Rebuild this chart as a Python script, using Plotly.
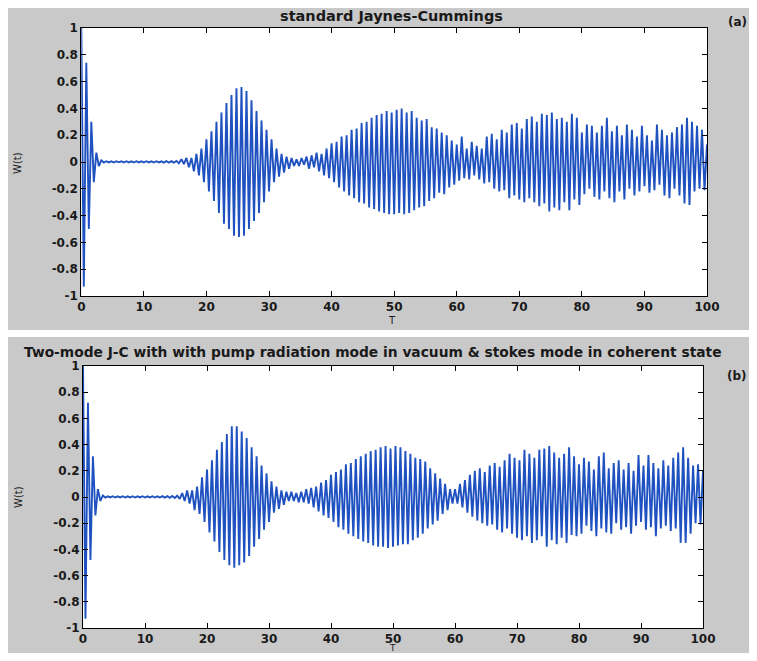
import plotly.graph_objects as go

# ---- data (extrema of the atomic inversion W(t)) ----
T = [
    0.0, 0.4, 0.8, 1.2, 1.6, 2.0, 2.4, 2.8, 3.2, 3.6,
    4.0, 4.4, 4.8, 5.2, 5.6, 6.0, 6.4, 6.8, 7.2, 7.6,
    8.0, 8.4, 8.8, 9.2, 9.6, 10.0, 10.4, 10.8, 11.2, 11.6,
    12.0, 12.4, 12.8, 13.2, 13.6, 14.0, 14.4, 14.8, 15.2, 15.6,
    16.0, 16.4, 16.8, 17.2, 17.6, 18.0, 18.4, 18.8, 19.2, 19.6,
    20.0, 20.4, 20.8, 21.2, 21.6, 22.0, 22.4, 22.8, 23.2, 23.6,
    24.0, 24.4, 24.8, 25.2, 25.6, 26.0, 26.4, 26.8, 27.2, 27.6,
    28.0, 28.4, 28.8, 29.2, 29.6, 30.0, 30.4, 30.8, 31.2, 31.6,
    32.0, 32.4, 32.8, 33.2, 33.6, 34.0, 34.4, 34.8, 35.2, 35.6,
    36.0, 36.4, 36.8, 37.2, 37.6, 38.0, 38.4, 38.8, 39.2, 39.6,
    40.0, 40.4, 40.8, 41.2, 41.6, 42.0, 42.4, 42.8, 43.2, 43.6,
    44.0, 44.4, 44.8, 45.2, 45.6, 46.0, 46.4, 46.8, 47.2, 47.6,
    48.0, 48.4, 48.8, 49.2, 49.6, 50.0, 50.4, 50.8, 51.2, 51.6,
    52.0, 52.4, 52.8, 53.2, 53.6, 54.0, 54.4, 54.8, 55.2, 55.6,
    56.0, 56.4, 56.8, 57.2, 57.6, 58.0, 58.4, 58.8, 59.2, 59.6,
    60.0, 60.4, 60.8, 61.2, 61.6, 62.0, 62.4, 62.8, 63.2, 63.6,
    64.0, 64.4, 64.8, 65.2, 65.6, 66.0, 66.4, 66.8, 67.2, 67.6,
    68.0, 68.4, 68.8, 69.2, 69.6, 70.0, 70.4, 70.8, 71.2, 71.6,
    72.0, 72.4, 72.8, 73.2, 73.6, 74.0, 74.4, 74.8, 75.2, 75.6,
    76.0, 76.4, 76.8, 77.2, 77.6, 78.0, 78.4, 78.8, 79.2, 79.6,
    80.0, 80.4, 80.8, 81.2, 81.6, 82.0, 82.4, 82.8, 83.2, 83.6,
    84.0, 84.4, 84.8, 85.2, 85.6, 86.0, 86.4, 86.8, 87.2, 87.6,
    88.0, 88.4, 88.8, 89.2, 89.6, 90.0, 90.4, 90.8, 91.2, 91.6,
    92.0, 92.4, 92.8, 93.2, 93.6, 94.0, 94.4, 94.8, 95.2, 95.6,
    96.0, 96.4, 96.8, 97.2, 97.6, 98.0, 98.4, 98.8, 99.2, 99.6,
    100.0,
]

W_standard = [
    1.00, -0.93, 0.74, -0.50, 0.30, -0.15, 0.07, -0.03, 0.012, -0.004,
    0.006, -0.003, 0.005, -0.004, 0.006, -0.002, 0.005, -0.004, 0.006, -0.003,
    0.005, -0.004, 0.006, -0.003, 0.005, -0.004, 0.006, -0.003, 0.005, -0.004,
    0.006, -0.003, 0.005, -0.005, 0.007, -0.004, 0.006, -0.005, 0.008, -0.010,
    0.02, -0.015, 0.03, -0.04, 0.03, -0.07, 0.06, -0.10, 0.10, -0.15,
    0.17, -0.22, 0.23, -0.29, 0.30, -0.38, 0.37, -0.46, 0.44, -0.50,
    0.50, -0.55, 0.55, -0.56, 0.56, -0.55, 0.53, -0.50, 0.46, -0.44,
    0.38, -0.38, 0.31, -0.30, 0.24, -0.22, 0.17, -0.15, 0.10, -0.11,
    0.06, -0.08, 0.04, -0.05, 0.03, -0.03, 0.02, -0.03, 0.03, -0.02,
    0.04, -0.05, 0.05, -0.04, 0.07, -0.07, 0.06, -0.10, 0.10, -0.12,
    0.14, -0.15, 0.15, -0.19, 0.19, -0.22, 0.20, -0.25, 0.24, -0.27,
    0.25, -0.30, 0.29, -0.31, 0.30, -0.34, 0.33, -0.35, 0.35, -0.37,
    0.36, -0.38, 0.38, -0.39, 0.37, -0.39, 0.39, -0.38, 0.40, -0.39,
    0.37, -0.38, 0.38, -0.36, 0.33, -0.34, 0.31, -0.33, 0.32, -0.29,
    0.26, -0.27, 0.25, -0.23, 0.22, -0.24, 0.20, -0.19, 0.16, -0.17,
    0.13, -0.14, 0.19, -0.12, 0.10, -0.13, 0.15, -0.10, 0.12, -0.13,
    0.10, -0.16, 0.19, -0.15, 0.21, -0.20, 0.17, -0.22, 0.24, -0.21,
    0.22, -0.27, 0.28, -0.25, 0.29, -0.28, 0.25, -0.30, 0.32, -0.27,
    0.34, -0.30, 0.30, -0.33, 0.36, -0.31, 0.35, -0.37, 0.37, -0.34,
    0.32, -0.36, 0.33, -0.30, 0.30, -0.36, 0.36, -0.28, 0.33, -0.32,
    0.22, -0.24, 0.28, -0.20, 0.27, -0.26, 0.22, -0.28, 0.27, -0.22,
    0.33, -0.27, 0.23, -0.30, 0.27, -0.22, 0.20, -0.28, 0.28, -0.20,
    0.24, -0.25, 0.19, -0.22, 0.27, -0.18, 0.20, -0.23, 0.16, -0.21,
    0.28, -0.17, 0.24, -0.25, 0.20, -0.27, 0.22, -0.20, 0.26, -0.25,
    0.28, -0.31, 0.33, -0.32, 0.30, -0.22, 0.27, -0.20, 0.24, -0.21,
    0.13,
]

W_two_mode = [
    1.00, -0.93, 0.72, -0.48, 0.31, -0.14, 0.06, -0.03, 0.012, -0.004,
    0.005, -0.003, 0.006, -0.004, 0.005, -0.003, 0.006, -0.004, 0.005, -0.003,
    0.006, -0.004, 0.005, -0.003, 0.006, -0.004, 0.005, -0.003, 0.006, -0.004,
    0.005, -0.004, 0.006, -0.005, 0.007, -0.006, 0.008, -0.008, 0.010, -0.015,
    0.03, -0.03, 0.05, -0.05, 0.05, -0.10, 0.08, -0.13, 0.15, -0.19,
    0.21, -0.27, 0.28, -0.34, 0.36, -0.42, 0.42, -0.48, 0.48, -0.52,
    0.54, -0.54, 0.54, -0.52, 0.50, -0.50, 0.45, -0.45, 0.38, -0.38,
    0.31, -0.32, 0.24, -0.25, 0.18, -0.19, 0.12, -0.12, 0.08, -0.09,
    0.05, -0.06, 0.04, -0.03, 0.04, -0.03, 0.03, -0.04, 0.04, -0.04,
    0.06, -0.05, 0.07, -0.08, 0.08, -0.11, 0.11, -0.14, 0.13, -0.16,
    0.17, -0.19, 0.19, -0.23, 0.21, -0.25, 0.25, -0.28, 0.26, -0.30,
    0.29, -0.32, 0.31, -0.34, 0.33, -0.35, 0.35, -0.37, 0.36, -0.38,
    0.38, -0.38, 0.39, -0.39, 0.37, -0.38, 0.39, -0.37, 0.38, -0.36,
    0.35, -0.36, 0.33, -0.33, 0.30, -0.31, 0.29, -0.28, 0.27, -0.24,
    0.22, -0.21, 0.18, -0.18, 0.14, -0.13, 0.10, -0.10, 0.06, -0.05,
    0.06, -0.05, 0.10, -0.08, 0.13, -0.12, 0.17, -0.15, 0.20, -0.18,
    0.22, -0.20, 0.19, -0.22, 0.24, -0.21, 0.26, -0.25, 0.23, -0.27,
    0.28, -0.24, 0.33, -0.28, 0.30, -0.31, 0.28, -0.33, 0.36, -0.30,
    0.33, -0.35, 0.30, -0.33, 0.36, -0.30, 0.37, -0.38, 0.39, -0.33,
    0.34, -0.36, 0.30, -0.31, 0.33, -0.35, 0.38, -0.29, 0.31, -0.30,
    0.25, -0.28, 0.30, -0.22, 0.27, -0.26, 0.21, -0.30, 0.31, -0.24,
    0.34, -0.27, 0.22, -0.28, 0.26, -0.20, 0.28, -0.25, 0.21, -0.23,
    0.26, -0.28, 0.20, -0.22, 0.32, -0.19, 0.24, -0.25, 0.32, -0.23,
    0.26, -0.30, 0.22, -0.24, 0.28, -0.22, 0.24, -0.26, 0.30, -0.24,
    0.34, -0.35, 0.38, -0.35, 0.30, -0.28, 0.24, -0.20, 0.25, -0.21,
    0.20,
]

X_TICKS = [0, 10, 20, 30, 40, 50, 60, 70, 80, 90, 100]
Y_TICKS = [-1, -0.8, -0.6, -0.4, -0.2, 0, 0.2, 0.4, 0.6, 0.8, 1]
Y_TICK_TEXT = ["-1", "-0.8", "-0.6", "-0.4", "-0.2", "0", "0.2", "0.4", "0.6", "0.8", "1"]

TITLE_A = "standard Jaynes-Cummings"
TITLE_B = "Two-mode J-C with with pump radiation mode in vacuum & stokes mode in coherent state"

# ---- layout geometry ----
# The page body keeps its default 8 px margin, so the figure is 741x645 and
# every position below is given in page pixels and shifted by that margin.
PAGE_OFF = 8
W_PX, H_PX = 741, 645
GRAY = "#c9c9c9"
LINE = "#1f52c0"
FONT = "DejaVu Sans"


def px(x):
    return (x - PAGE_OFF) / W_PX


def py(y):
    return 1 - (y - PAGE_OFF) / H_PX


fig = go.Figure()
fig.add_trace(go.Scatter(x=T, y=W_standard, mode="lines",
                         line=dict(color=LINE, width=1.9),
                         xaxis="x", yaxis="y", showlegend=False))
fig.add_trace(go.Scatter(x=T, y=W_two_mode, mode="lines",
                         line=dict(color=LINE, width=1.9),
                         xaxis="x2", yaxis="y2", showlegend=False))

tickfont = dict(family=FONT, size=12, color="#1a1a1a", weight="bold")
common_x = dict(range=[0, 100], tickvals=X_TICKS, ticks="inside", ticklen=5,
                tickcolor="black", showline=True, linecolor="black", linewidth=1,
                mirror="ticks", showgrid=False, zeroline=False, tickfont=tickfont)
common_y = dict(range=[-1, 1], tickvals=Y_TICKS, ticktext=Y_TICK_TEXT, ticks="inside",
                ticklen=5, tickcolor="black", showline=True, linecolor="black",
                linewidth=1, mirror="ticks", showgrid=False, zeroline=False,
                tickfont=tickfont)

fig.update_layout(
    width=W_PX, height=H_PX,
    margin=dict(l=0, r=0, t=0, b=0, autoexpand=False),
    paper_bgcolor=GRAY, plot_bgcolor="white",
    xaxis=dict(domain=[px(81.3), px(707)], anchor="y", **common_x),
    yaxis=dict(domain=[py(296), py(28)], anchor="x", **common_y),
    xaxis2=dict(domain=[px(83), px(703)], anchor="y2", **common_x),
    yaxis2=dict(domain=[py(628), py(366)], anchor="x2", **common_y),
    shapes=[
        dict(type="rect", xref="paper", yref="paper", x0=0, x1=1,
             y0=py(337), y1=py(330),
             fillcolor="white", line_width=0, layer="below"),
    ],
)

ann_font = dict(family=FONT, size=14.5, color="#1a1a1a", weight="bold")
title_b_font = dict(family=FONT, size=13.8, color="#1a1a1a", weight="bold")
small_bold = dict(family=FONT, size=12, color="#1a1a1a", weight="bold")
label_font = dict(family=FONT, size=10, color="#1a1a1a")
annotations = [
    dict(text=TITLE_A, x=px(391), y=py(16), xanchor="center", yanchor="middle",
         font=ann_font),
    dict(text=TITLE_B, x=px(22), y=py(352), xanchor="left", yanchor="middle",
         font=title_b_font),
    dict(text="(a)", x=px(737), y=py(22), xanchor="center", yanchor="middle",
         font=small_bold),
    dict(text="(b)", x=px(737), y=py(376), xanchor="center", yanchor="middle",
         font=small_bold),
    dict(text="T", x=px(392), y=py(320), xanchor="center", yanchor="middle",
         font=label_font),
    dict(text="T", x=px(392), y=py(648), xanchor="center", yanchor="middle",
         font=dict(family=FONT, size=9, color="#1a1a1a")),
    dict(text="W(t)", x=px(17), y=py(163), xanchor="center", yanchor="middle",
         textangle=-90, font=dict(family=FONT, size=10, color="#1a1a1a")),
    dict(text="W(t)", x=px(19), y=py(497), xanchor="center", yanchor="middle",
         textangle=-90, font=dict(family=FONT, size=10, color="#1a1a1a")),
]
for a in annotations:
    a.update(xref="paper", yref="paper", showarrow=False)
fig.update_layout(annotations=annotations)

fig.write_html("out.html", config={"displayModeBar": False})
